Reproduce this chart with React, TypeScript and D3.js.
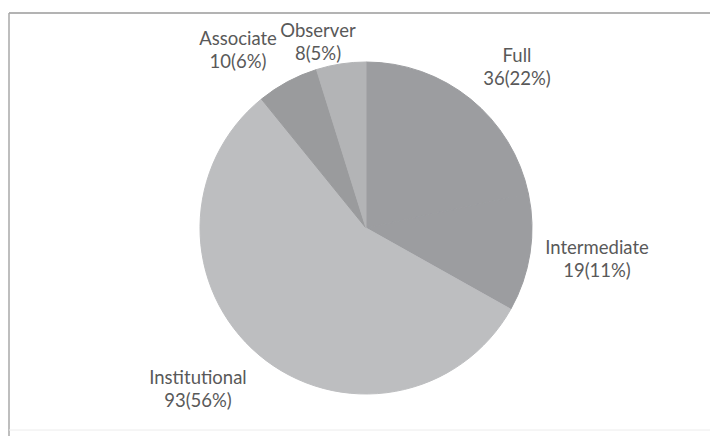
import React from "react";
import * as d3 from "d3";

const categories = ["Full", "Intermediate", "Institutional", "Associate", "Observer"];
const values = [36, 19, 93, 10, 8];
const percents = ["22%", "11%", "56%", "6%", "5%"];
const colors = ["#9c9da0", "#9c9da0", "#bdbec0", "#9a9b9d", "#b3b4b6"];
// label anchor positions (px) for each category
const labelX = [517, 597, 198, 238, 318];
const labelY = [55, 247, 377, 38, 30];

const W = 710;
const H = 436;
const cx = 366;
const cy = 228;
const R = 166;

export default function App() {
  const pie = d3
    .pie<number>()
    .sort(null)
    .startAngle(0)
    .endAngle(2 * Math.PI)
    .value((d) => d);
  const arcs = pie(values);
  const arcGen = d3.arc<d3.PieArcDatum<number>>().innerRadius(0).outerRadius(R);

  return (
    <svg
      width={W}
      height={H}
      style={{ position: "absolute", left: 0, top: 0, background: "#ffffff" }}
      fontFamily="Lato, 'Open Sans', sans-serif"
    >
      <rect x={0} y={0} width={W} height={H} fill="#ffffff" />
      {/* frame */}
      <line x1={9} y1={13} x2={W} y2={13} stroke="#9a9a9a" strokeWidth={1.5} />
      <line x1={9} y1={13} x2={9} y2={H} stroke="#a8a8a8" strokeWidth={1.5} />
      <line x1={9} y1={430} x2={W} y2={430} stroke="#ececec" strokeWidth={1} />
      <g transform={`translate(${cx},${cy})`}>
        {arcs.map((a, i) => (
          <path
            key={categories[i]}
            d={arcGen(a) || ""}
            fill={colors[i]}
            stroke={colors[i]}
            strokeWidth={1}
            strokeLinejoin="round"
          />
        ))}
      </g>
      {categories.map((c, i) => (
        <g key={c} fill="#595959" fontSize={18.5} textAnchor="middle">
          <text x={labelX[i]} y={labelY[i]} dominantBaseline="central">
            {c}
          </text>
          <text x={labelX[i]} y={labelY[i] + 23} dominantBaseline="central">
            {`${values[i]}(${percents[i]})`}
          </text>
        </g>
      ))}
    </svg>
  );
}
